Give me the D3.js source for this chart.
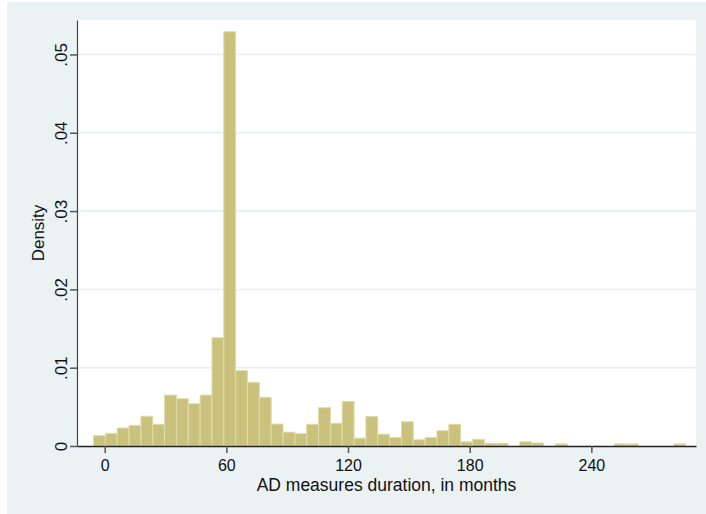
<!DOCTYPE html>
<html>
<head>
<meta charset="utf-8">
<script src="https://cdn.jsdelivr.net/npm/d3@7"></script>
<style>
  html, body { margin: 0; padding: 0; background: #ffffff; }
  svg { display: block; font-family: "Liberation Sans", Arial, sans-serif; }
</style>
</head>
<body>
<svg id="chart" width="706" height="514"></svg>
<script>
// ---- data ----
const binStart = -5.5;      // left edge of first bin, months
const binWidth = 5.84;      // bin width, months
const densities = [
  0.00132, 0.00162, 0.0023, 0.00264, 0.0038, 0.00277, 0.0065, 0.00604, 0.0054, 0.0065,
  0.01383, 0.0529, 0.00962, 0.00813, 0.00622, 0.0028, 0.00177, 0.00158, 0.00277, 0.0049,
  0.0029, 0.0057, 0.001, 0.00376, 0.0015, 0.0011, 0.0031, 0.0008, 0.0011, 0.00196,
  0.00277, 0.00053, 0.00085, 0.00034, 0.00034, 0, 0.00055, 0.00038, 0, 0.00026,
  0, 0, 0, 0, 0.00026, 0.00026, 0, 0, 0, 0.00026
];
const xTicks = [0, 60, 120, 180, 240];
const yTicks = [0, 0.01, 0.02, 0.03, 0.04, 0.05];
const yTickLabels = ["0", ".01", ".02", ".03", ".04", ".05"];
const xTitle = "AD measures duration, in months";
const yTitle = "Density";

const bins = densities.map((d, i) => ({
  x0: binStart + i * binWidth,
  x1: binStart + (i + 1) * binWidth,
  d: d
}));

// ---- layout ----
const svg = d3.select("#chart");
const plot = { left: 77, right: 696, top: 20, bottom: 446 };

svg.append("rect").attr("x", 7).attr("y", 2).attr("width", 699).attr("height", 512)
  .attr("fill", "#eaf2f3");
svg.append("rect").attr("x", plot.left).attr("y", plot.top)
  .attr("width", plot.right - plot.left).attr("height", plot.bottom - plot.top)
  .attr("fill", "#ffffff");

const x = d3.scaleLinear().domain([-13.66, 291.6]).range([plot.left, plot.right]);
const y = d3.scaleLinear().domain([0, 0.0544]).range([plot.bottom, plot.top]);

// grid lines
svg.append("g").selectAll("line").data(yTicks.filter(t => t > 0)).join("line")
  .attr("x1", plot.left).attr("x2", plot.right)
  .attr("y1", d => y(d)).attr("y2", d => y(d))
  .attr("stroke", "#e6eef0").attr("stroke-width", 1.5);

// bars
svg.append("g").selectAll("rect").data(bins.filter(b => b.d > 0)).join("rect")
  .attr("x", b => x(b.x0))
  .attr("width", b => x(b.x1) - x(b.x0))
  .attr("y", b => y(b.d))
  .attr("height", b => y(0) - y(b.d))
  .attr("fill", "#c9c17c")
  .attr("stroke", "#e0dcab")
  .attr("stroke-width", 1);

// x axis
const xAxis = svg.append("g").attr("transform", `translate(0,${plot.bottom})`)
  .call(d3.axisBottom(x).tickValues(xTicks).tickSize(7).tickSizeOuter(0).tickPadding(7)
    .tickFormat(d3.format("d")));
xAxis.select(".domain").attr("stroke", "#222").attr("stroke-width", 1.5);
xAxis.selectAll(".tick line").attr("stroke", "#555").attr("stroke-width", 1.5);
xAxis.selectAll(".tick text").attr("font-size", 16).attr("fill", "#111")
  .attr("font-family", "Liberation Sans, Arial, sans-serif");

// y axis
const yAxis = svg.append("g").attr("transform", `translate(${plot.left},0)`)
  .call(d3.axisLeft(y).tickValues(yTicks).tickSize(7).tickSizeOuter(0)
    .tickFormat((d, i) => yTickLabels[i]));
yAxis.select(".domain").attr("stroke", "#444").attr("stroke-width", 1.2);
yAxis.selectAll(".tick line").attr("stroke", "#555").attr("stroke-width", 1.5);
yAxis.selectAll(".tick text")
  .attr("x", 0).attr("dy", 0)
  .attr("transform", "translate(-10,0) rotate(-90)")
  .attr("text-anchor", "middle")
  .attr("font-size", 17).attr("fill", "#111")
  .attr("font-family", "Liberation Sans, Arial, sans-serif");

// axis titles
svg.append("text")
  .attr("x", (plot.left + plot.right) / 2).attr("y", 491)
  .attr("text-anchor", "middle").attr("font-size", 17.5).attr("fill", "#111")
  .text(xTitle);
svg.append("text")
  .attr("transform", `translate(44,${(plot.top + plot.bottom) / 2}) rotate(-90)`)
  .attr("text-anchor", "middle").attr("font-size", 17).attr("fill", "#111")
  .text(yTitle);
</script>
</body>
</html>
